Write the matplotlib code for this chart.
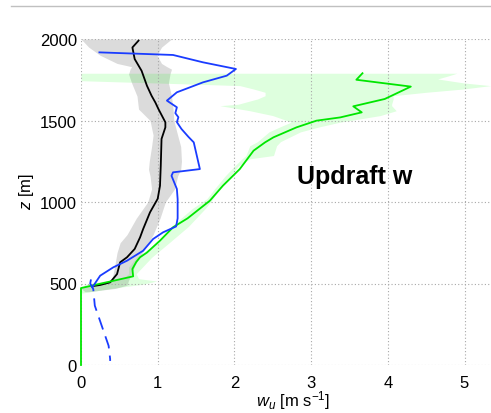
import matplotlib
matplotlib.use("Agg")
import matplotlib.pyplot as plt
from matplotlib.lines import Line2D
import numpy as np

plt.rcParams["font.family"] = ["Liberation Sans", "DejaVu Sans"]
plt.rcParams["mathtext.fontset"] = "custom"
plt.rcParams["mathtext.rm"] = "Liberation Sans"
plt.rcParams["mathtext.it"] = "Liberation Sans:italic"

# mean profile (black) and its spread (gray)
black_x = [0.14, 0.25, 0.38, 0.47, 0.51, 0.60, 0.70, 0.77, 0.81, 0.90, 1.00,
           1.03, 1.04, 1.05, 1.10, 1.10, 1.01, 0.97, 0.92, 0.86, 0.79, 0.70,
           0.67, 0.75]
black_z = [483, 491, 507, 558, 630, 661, 712, 783, 834, 937, 1020,
           1100, 1223, 1387, 1458, 1489, 1570, 1610, 1652, 1713, 1805, 1877,
           1948, 1990]

gray_z = [450, 470, 490, 520, 560, 610, 690, 750, 800, 900, 1000, 1080, 1160,
          1200, 1250, 1340, 1410, 1500, 1570, 1650, 1730, 1785, 1815, 1830,
          1850, 1900, 1950, 2000]
gray_lo = [0.05, 0.00, 0.10, 0.40, 0.42, 0.44, 0.47, 0.51, 0.60, 0.72, 0.87,
           0.92, 0.90, 0.88, 0.89, 0.92, 0.94, 0.90, 0.75, 0.73, 0.66, 0.62,
           0.64, 0.66, 0.47, 0.25, 0.10, 0.00]
gray_hi = [0.10, 0.45, 0.60, 0.62, 0.66, 0.70, 0.80, 0.88, 0.94, 1.03, 1.10,
           1.22, 1.26, 1.30, 1.31, 1.30, 1.26, 1.21, 1.20, 1.18, 1.14, 1.16,
           1.18, 1.12, 1.05, 0.99, 1.05, 1.18]

# blue profile, solid part above cloud base and dashed part below
blue_x = [0.24, 1.20, 1.59, 2.02, 1.90, 1.59, 1.25, 1.12, 1.25, 1.23, 1.27,
          1.25, 1.31, 1.40, 1.47, 1.55, 1.20, 1.18, 1.25, 1.26, 1.26, 1.24,
          1.07, 0.94, 0.81, 0.60, 0.42, 0.25, 0.15]
blue_z = [1918, 1902, 1857, 1816, 1775, 1734, 1673, 1622, 1581, 1545, 1520,
          1490, 1448, 1400, 1366, 1202, 1182, 1161, 1080, 1018, 900, 850,
          814, 773, 701, 640, 599, 548, 478]
blue_dash_x = [0.13, 0.12, 0.16, 0.18, 0.27, 0.36, 0.38, 0.38]
blue_dash_z = [525, 500, 466, 364, 241, 118, 37, 25]

# updraft profile (green) and its spread
green_x = [0.00, 0.00, 0.68, 0.67, 0.72, 0.77, 0.86, 1.03, 1.20, 1.39, 1.68,
           1.85, 2.07, 2.25, 2.40, 2.51, 2.81, 3.07, 3.38, 3.66, 3.55, 3.96,
           4.30, 3.59, 3.67]
green_z = [0, 472, 544, 589, 632, 661, 690, 763, 845, 900, 1008,
           1100, 1202, 1315, 1366, 1397, 1458, 1499, 1519, 1550, 1587, 1632,
           1708, 1750, 1790]

band_z = [440, 470, 495, 515, 530, 560, 600, 660, 750, 850, 960, 1020, 1080,
          1160, 1220, 1265, 1285, 1345, 1370, 1430, 1460, 1490, 1530, 1560,
          1591, 1600, 1632, 1652, 1673, 1693, 1714, 1730, 1744, 1755, 1775,
          1790]
band_lo = [0.00, 0.00, 0.05, 0.30, 0.55, 0.62, 0.62, 0.72, 1.00, 1.18, 1.45,
           1.64, 1.74, 1.88, 2.00, 2.10, 2.15, 2.20, 2.30, 2.45, 2.59, 2.74,
           2.50, 2.20, 1.81, 2.05, 2.30, 2.40, 2.40, 2.25, 2.07, 1.00, 0.00,
           0.00, 0.00, 0.00]
band_hi = [0.00, 0.40, 0.80, 0.99, 0.75, 0.72, 0.80, 0.92, 1.15, 1.40, 1.62,
           1.72, 1.80, 1.95, 2.05, 2.20, 2.51, 2.55, 2.60, 2.86, 3.10, 3.38,
           3.90, 4.11, 4.05, 4.05, 4.07, 4.07, 4.50, 4.98, 5.34, 5.00, 4.80,
           4.65, 4.80, 4.90]

xticks = [0, 1, 2, 3, 4, 5]
zticks = [0, 500, 1000, 1500, 2000]

fig = plt.figure(figsize=(4.91, 4.14), dpi=100)
ax = fig.add_axes([81 / 491, 48 / 414, 410 / 491, 326 / 414])

ax.fill_betweenx(gray_z, gray_lo, gray_hi, color="black", alpha=0.14, lw=0)
ax.fill_betweenx(band_z, band_lo, band_hi, color="#00ff00", alpha=0.13, lw=0)

ax.plot(black_x, black_z, color="black", lw=1.3, zorder=3)
ax.plot(green_x, green_z, color="#00e600", lw=1.3, zorder=3, clip_on=False)
ax.plot(blue_x, blue_z, color="#1a3cff", lw=1.3, zorder=4)
ax.plot(blue_dash_x, blue_dash_z, color="#1a3cff", lw=1.3, ls=(0, (7, 4)),
        zorder=4)

ax.text(2.82, 1117, "Updraft w", fontsize=18, fontweight="bold",
        ha="left", va="baseline")

ax.set_xlim(0, 410 / 76.7)
ax.set_ylim(0, 2000)
ax.set_xticks(xticks)
ax.set_yticks(zticks)
ax.tick_params(length=0, labelsize=12)
ax.tick_params(axis="x", pad=7)
ax.tick_params(axis="y", pad=3)
for s in ax.spines.values():
    s.set_visible(False)
ax.grid(True, color="#a8a8a8", lw=0.8, ls=(0, (1, 2)))

ax.set_xlabel(r"$w_u$ [m s$^{-1}$]", fontsize=12)
ax.xaxis.set_label_coords((293 - 81) / 410, -(401 - 366) / 326)
ax.xaxis.label.set_va("center")
ax.set_ylabel(r"$z$ [m]", fontsize=12)
ax.yaxis.set_label_coords(-(81 - 27) / 410, (374 - 200) / 326)
ax.yaxis.label.set_va("center")

fig.add_artist(Line2D([11 / 491, 1], [1 - 7 / 414, 1 - 7 / 414],
                      color="#c0c0c0", lw=1))

fig.savefig("out.png", dpi=100)
